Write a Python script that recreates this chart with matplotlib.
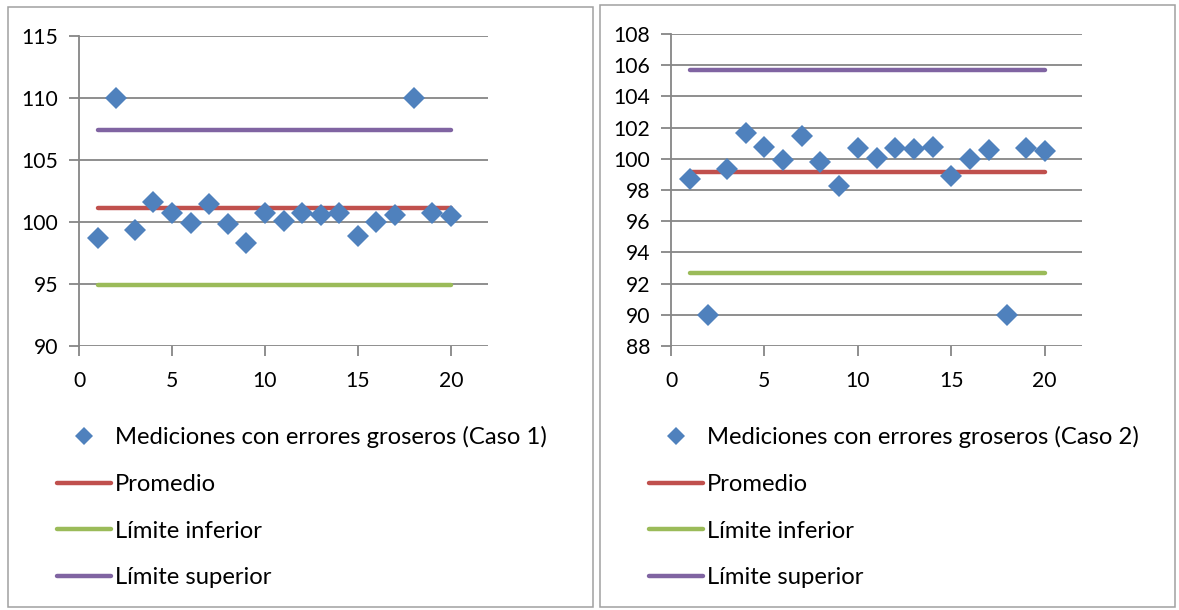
import matplotlib
matplotlib.use("Agg")
import matplotlib.pyplot as plt
from matplotlib.lines import Line2D
from matplotlib.patches import Rectangle

# Measurement index
x = list(range(1, 21))

# Measurements with gross errors, case 1 (outliers high) and case 2 (outliers low)
caso1 = [98.68, 110.0, 99.35, 101.64, 100.75, 99.90, 101.43, 99.80, 98.27, 100.70,
         100.05, 100.70, 100.60, 100.73, 98.87, 100.00, 100.57, 110.0, 100.70, 100.49]
caso2 = [98.68, 90.0, 99.35, 101.64, 100.75, 99.90, 101.43, 99.80, 98.27, 100.70,
         100.05, 100.70, 100.60, 100.73, 98.87, 100.00, 100.57, 90.0, 100.70, 100.49]

# Mean and control limits for each case
promedio = [101.16, 99.16]
limite_inferior = [94.89, 92.66]
limite_superior = [107.44, 105.72]

series_labels = ["Mediciones con errores groseros (Caso 1)",
                 "Mediciones con errores groseros (Caso 2)"]
line_labels = ["Promedio", "Límite inferior", "Límite superior"]

y_limits = [(90, 115), (88, 108)]
y_steps = [5, 2]
x_ticks = [0, 5, 10, 15, 20]

BLUE = "#4F81BD"
RED = "#C0504D"
GREEN = "#9BBB59"
PURPLE = "#8064A2"
GRID = "#868686"

plt.rcParams["font.family"] = ["Lato", "DejaVu Sans"]
TICK_FS = 15.2
LEG_FS = 17.2

W, H = 1179, 610
fig = plt.figure(figsize=(W / 100, H / 100), dpi=100)

def fx(px):
    return px / W

def fy(py):
    return 1 - py / H

# Panel frames
for (x0, y0, x1, y1) in [(8, 7, 593, 607), (600, 5, 1175, 607)]:
    fig.patches.append(Rectangle((fx(x0), fy(y1)), fx(x1 - x0), (y1 - y0) / H,
                                 transform=fig.transFigure, fill=False,
                                 edgecolor="#a0a0a0", linewidth=1.1, zorder=0))

axes_px = [(79, 36, 488, 346), (671, 34, 1082, 346)]
legend_x = [57, 649]
data = [caso1, caso2]

for i in range(2):
    x0, y0, x1, y1 = axes_px[i]
    ax = fig.add_axes([fx(x0), fy(y1), fx(x1 - x0), (y1 - y0) / H])
    lo, hi = y_limits[i]
    ax.set_xlim(0, 22)
    ax.set_ylim(lo, hi)
    ax.set_yticks(range(lo, hi + 1, y_steps[i]))
    ax.set_xticks(x_ticks)
    ax.grid(axis="y", color=GRID, linewidth=1.3)
    ax.set_axisbelow(True)
    for s in ["top", "right", "bottom"]:
        ax.spines[s].set_visible(False)
    ax.spines["left"].set_color(GRID)
    ax.spines["left"].set_linewidth(1.3)
    # bottom gridline serves as x axis; tick marks drawn in gray
    ax.tick_params(axis="both", colors=GRID, labelcolor="black",
                   labelsize=TICK_FS, width=1.3)
    ax.tick_params(axis="y", length=7, pad=8)
    ax.tick_params(axis="x", length=7, pad=11)

    ax.plot(x, data[i], linestyle="none", marker="D", markersize=11.5,
            color=BLUE, markeredgewidth=0, zorder=5,
            label=series_labels[i], clip_on=False)
    ax.plot([x[0], x[-1]], [promedio[i]] * 2, color=RED, lw=3.2,
            solid_capstyle="round", label=line_labels[0], zorder=3)
    ax.plot([x[0], x[-1]], [limite_inferior[i]] * 2, color=GREEN, lw=3.2,
            solid_capstyle="round", label=line_labels[1], zorder=3)
    ax.plot([x[0], x[-1]], [limite_superior[i]] * 2, color=PURPLE, lw=3.2,
            solid_capstyle="round", label=line_labels[2], zorder=3)

    h_marker = Line2D([], [], linestyle="none", marker="D", markersize=9.5,
                      color=BLUE, markeredgewidth=0)
    h1 = Line2D([], [], color=RED, lw=3.2, solid_capstyle="round")
    h2 = Line2D([], [], color=GREEN, lw=3.2, solid_capstyle="round")
    h3 = Line2D([], [], color=PURPLE, lw=3.2, solid_capstyle="round")
    fpx = LEG_FS * 100 / 72
    fig.legend([h_marker, h1, h2, h3],
               [series_labels[i]] + line_labels,
               loc="upper left",
               bbox_to_anchor=(fx(legend_x[i]), fy(426)),
               bbox_transform=fig.transFigure,
               frameon=False, fontsize=LEG_FS, borderpad=0, borderaxespad=0,
               handlelength=54 / fpx, handletextpad=4 / fpx,
               labelspacing=1.08)

fig.savefig("out.png", dpi=100)
